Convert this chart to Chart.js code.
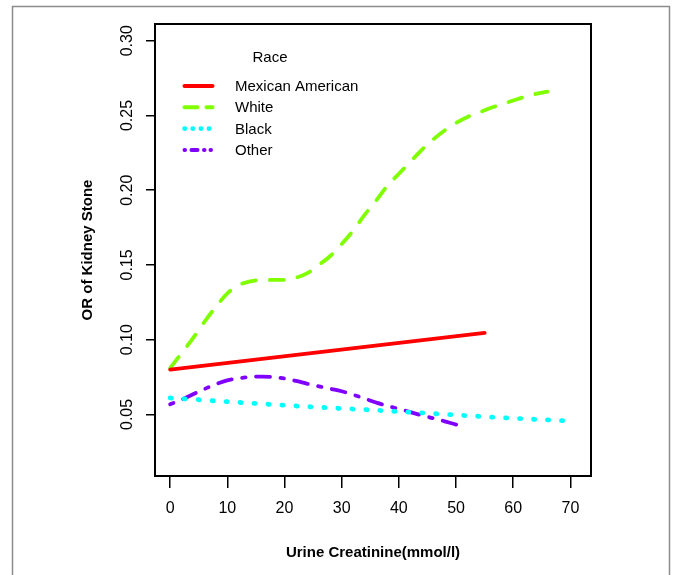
<!DOCTYPE html>
<html>
<head>
<meta charset="utf-8">
<script src="https://cdn.jsdelivr.net/npm/chart.js@4.4.1/dist/chart.umd.min.js"></script>
<style>
  html, body { margin: 0; padding: 0; background: #ffffff; }
  #wrap { width: 675px; height: 575px; }
</style>
</head>
<body>
<div id="wrap"><canvas id="c" width="675" height="575"></canvas></div>
<script>
// ---------- data ----------
const seriesNames = ['Mexican American', 'White', 'Black', 'Other'];
const legendTitle = 'Race';
const xTitle = 'Urine Creatinine(mmol/l)';
const yTitle = 'OR of Kidney Stone';

const mexX = [0, 55];
const mexY = [0.0800, 0.1045];

const whiteX = [0, 2, 4, 6, 8, 10, 12, 14, 16, 18, 20, 22, 24, 26, 28, 30, 32, 34, 36, 38, 40, 42, 44, 46, 48, 50, 52, 54, 56, 58, 60, 62, 64, 66];
const whiteY = [0.081, 0.091, 0.101, 0.112, 0.122, 0.131, 0.1365, 0.139, 0.140, 0.140, 0.140, 0.1415, 0.1445, 0.150, 0.156, 0.164, 0.173, 0.1835, 0.193, 0.203, 0.211, 0.219, 0.227, 0.234, 0.240, 0.245, 0.249, 0.252, 0.255, 0.2575, 0.260, 0.2625, 0.2645, 0.266];

const blackX = [0, 5, 10, 15, 20, 25, 30, 35, 40, 45, 50, 55, 60, 65, 70];
const blackY = [0.0610, 0.0598, 0.0585, 0.0573, 0.0561, 0.0550, 0.0540, 0.0530, 0.0519, 0.0508, 0.0496, 0.0485, 0.0474, 0.0465, 0.0456];

const otherX = [0, 2, 4, 6, 8, 10, 12, 14, 16, 18, 20, 22, 24, 26, 28, 30, 32, 34, 36, 38, 40, 42, 44, 46, 48, 50, 51];
const otherY = [0.0568, 0.0598, 0.0635, 0.0670, 0.0703, 0.0728, 0.0742, 0.0750, 0.0753, 0.0750, 0.0740, 0.0724, 0.0705, 0.0688, 0.0672, 0.0655, 0.0632, 0.0606, 0.0580, 0.0556, 0.0537, 0.0515, 0.0494, 0.0474, 0.0454, 0.0432, 0.0423];

const xTicks = [0, 10, 20, 30, 40, 50, 60, 70];
const yTicks = [0.05, 0.10, 0.15, 0.20, 0.25, 0.30];
const yTickLabels = ['0.05', '0.10', '0.15', '0.20', '0.25', '0.30'];

// ---------- styles ----------
const FONT = '"Liberation Sans", Arial, Helvetica, sans-serif';
const colors = ['#FF0000', '#80FF00', '#00FFFF', '#8000FF'];
const widths = [3.8, 3.8, 4.8, 3.8];
const dashes = [[], [14, 14], [1.2, 12.8], [3.5, 10.5, 14, 10.5]];
const legendDashes = [[], [13, 9], [0.5, 7.6], [0.5, 6.5, 6, 6.5, 0.5, 6, 0.5, 20]];

function pairs(xs, ys) { return xs.map((x, i) => ({ x: x, y: ys[i] })); }
const seriesX = [mexX, whiteX, blackX, otherX];
const seriesY = [mexY, whiteY, blackY, otherY];

const datasets = seriesNames.map((name, i) => ({
  label: name,
  data: pairs(seriesX[i], seriesY[i]),
  borderColor: colors[i],
  backgroundColor: colors[i],
  borderWidth: widths[i],
  borderDash: dashes[i],
  borderCapStyle: 'round',
  borderJoinStyle: 'round',
  pointRadius: 0,
  pointHoverRadius: 0,
  fill: false,
  cubicInterpolationMode: 'monotone'
}));

const framePlugin = {
  id: 'frame',
  beforeDraw(chart) {
    const ctx = chart.ctx;
    ctx.save();
    ctx.fillStyle = '#ffffff';
    ctx.fillRect(0, 0, chart.width, chart.height);
    ctx.strokeStyle = '#8c8c8c';
    ctx.lineWidth = 1.5;
    ctx.strokeRect(12.5, 6.5, 657, 600);
    ctx.restore();
  },
  afterDatasetsDraw(chart) {
    const ctx = chart.ctx;
    const a = chart.chartArea;
    ctx.save();
    ctx.strokeStyle = '#000';
    ctx.lineWidth = 2;
    ctx.strokeRect(a.left, a.top, a.right - a.left, a.bottom - a.top);

    // legend
    ctx.font = '15px ' + FONT;
    ctx.fillStyle = '#000';
    ctx.textBaseline = 'middle';
    ctx.textAlign = 'center';
    ctx.fillText(legendTitle, 270, 58);
    chart.data.datasets.forEach((d, i) => {
      const y = 86 + i * 21.3;
      ctx.strokeStyle = d.borderColor;
      ctx.lineWidth = i === 2 ? 4.6 : 4;
      ctx.lineCap = 'round';
      ctx.setLineDash(legendDashes[i]);
      ctx.beginPath();
      ctx.moveTo(184.5, y);
      ctx.lineTo(212.5, y);
      ctx.stroke();
      ctx.setLineDash([]);
      ctx.textAlign = 'left';
      ctx.fillText(d.label, 235, y + 1);
    });
    ctx.restore();
  }
};

new Chart(document.getElementById('c'), {
  type: 'line',
  data: { datasets: datasets },
  plugins: [framePlugin],
  options: {
    responsive: false,
    animation: false,
    devicePixelRatio: 1,
    layout: { padding: { left: 0, right: 84, top: 24, bottom: 0 } },
    plugins: { legend: { display: false }, tooltip: { enabled: false } },
    scales: {
      x: {
        type: 'linear',
        min: -2.65,
        max: 73.6,
        afterBuildTicks: s => { s.ticks = xTicks.map(v => ({ value: v })); },
        afterFit: s => { s.height = 99; },
        ticks: {
          font: { family: FONT, size: 16 },
          color: '#000',
          padding: 11,
          autoSkip: false,
          maxRotation: 0,
          callback: v => String(v)
        },
        grid: { display: true, drawOnChartArea: false, drawTicks: true, tickLength: 12, color: '#000', lineWidth: 1.5 },
        border: { display: false },
        title: {
          display: true,
          text: xTitle,
          color: '#000',
          font: { family: FONT, size: 15, weight: 'bold' },
          padding: { top: 0, bottom: 13 }
        }
      },
      y: {
        type: 'linear',
        min: 0.0088,
        max: 0.3112,
        afterBuildTicks: s => { s.ticks = yTicks.map(v => ({ value: v })); },
        afterFit: s => { s.width = 155; },
        ticks: {
          font: { family: FONT, size: 16 },
          color: '#000',
          padding: 3,
          autoSkip: false,
          minRotation: 90,
          maxRotation: 90,
          crossAlign: 'center',
          callback: (v, i) => yTickLabels[i]
        },
        grid: { display: true, drawOnChartArea: false, drawTicks: true, tickLength: 9, color: '#000', lineWidth: 1.5 },
        border: { display: false },
        title: {
          display: true,
          text: yTitle,
          color: '#000',
          font: { family: FONT, size: 15, weight: 'bold' },
          padding: { top: 79, bottom: 0 }
        }
      }
    }
  }
});
</script>
</body>
</html>
